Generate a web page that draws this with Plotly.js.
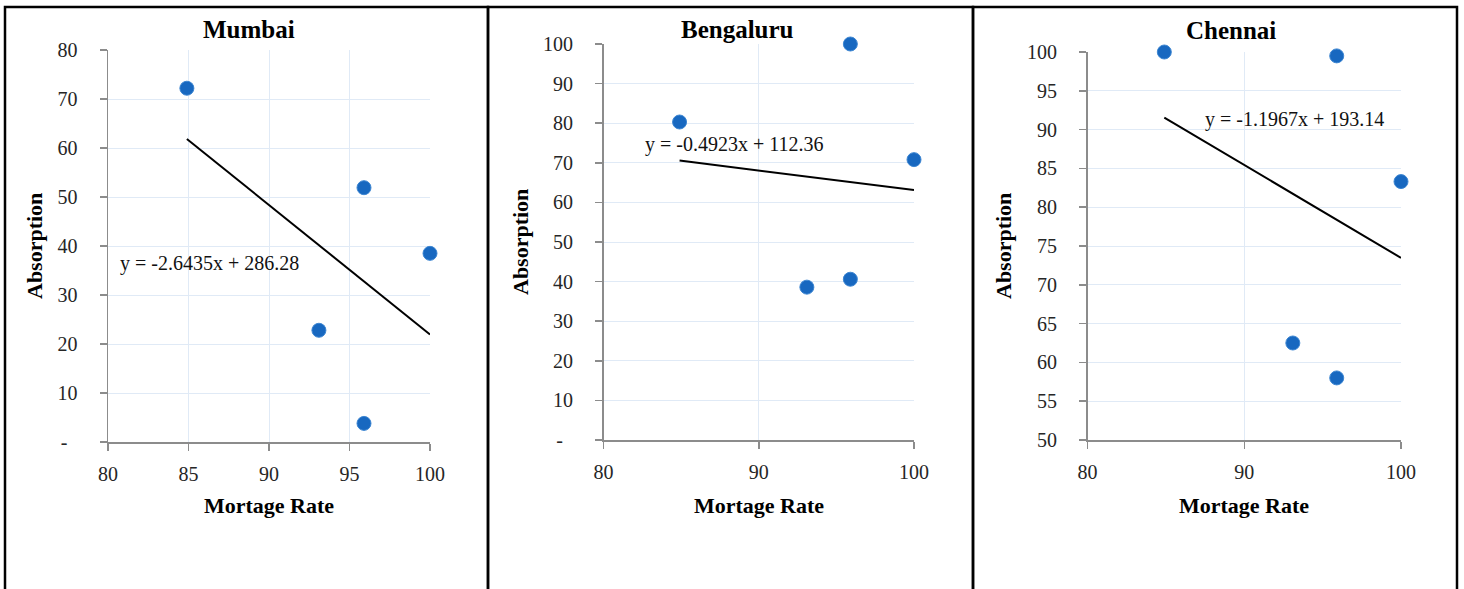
<!DOCTYPE html>
<html>
<head>
<meta charset="utf-8">
<script src="https://cdn.plot.ly/plotly-3.0.1.min.js"></script>
<style>
html,body{margin:0;padding:0;background:#fff;}
#chart{width:1464px;height:589px;}
</style>
</head>
<body>
<div id="chart"></div>
<script>
// ---- data ----
const cities = ["Mumbai", "Bengaluru", "Chennai"];
const mortgageRate = [84.9, 93.1, 95.9, 95.9, 100];
const absorptionMumbai = [72.2, 22.8, 51.9, 3.8, 38.5];
const absorptionBengaluru = [80.3, 38.6, 100, 40.6, 70.8];
const absorptionChennai = [100, 62.5, 99.5, 58.0, 83.3];
const trendSlopes = [-2.6435, -0.4923, -1.1967];
const trendIntercepts = [286.28, 112.36, 193.14];
const equationLabels = ["y = -2.6435x + 286.28", "y = -0.4923x + 112.36", "y = -1.1967x + 193.14"];
const xTickVals = [[80, 85, 90, 95, 100], [80, 90, 100], [80, 90, 100]];
const yTickVals = [
  [0, 10, 20, 30, 40, 50, 60, 70, 80],
  [0, 10, 20, 30, 40, 50, 60, 70, 80, 90, 100],
  [50, 55, 60, 65, 70, 75, 80, 85, 90, 95, 100]
];
const yTickText = [
  ["-\u00a0\u00a0", "10", "20", "30", "40", "50", "60", "70", "80"],
  ["-\u00a0\u00a0", "10", "20", "30", "40", "50", "60", "70", "80", "90", "100"],
  ["50", "55", "60", "65", "70", "75", "80", "85", "90", "95", "100"]
];
const yRanges = [[0, 80], [0, 100], [50, 100]];
const xTitle = "Mortage Rate";
const yTitle = "Absorption";

// ---- layout helpers ----
const W = 1464, H = 589;
const px = v => v / W;
const py = v => 1 - v / H;
const series = [absorptionMumbai, absorptionBengaluru, absorptionChennai];

const plotBoxes = [
  {l: 108, r: 430, t: 50, b: 442},
  {l: 603.5, r: 914, t: 44, b: 440},
  {l: 1087.5, r: 1401, t: 52, b: 440}
];
const panelBoxes = [[5, 488], [488, 973], [973, 1457]];
const titlePos = [[249, 29], [737, 29], [1231, 30]];
const yTitleX = [35, 520, 1004];
const eqPos = [[80.62, 36.5], [82.57, 74.5], [87.35, 91.24]];

const tickFont = {family: "Liberation Serif, serif", size: 20, color: "#262626"};
const data = [];
const layout = {
  width: W, height: H,
  margin: {l: 0, r: 0, t: 0, b: 0},
  paper_bgcolor: "#fff", plot_bgcolor: "#fff",
  showlegend: false,
  annotations: [], shapes: []
};

cities.forEach((city, i) => {
  const n = i === 0 ? "" : String(i + 1);
  const xa = "x" + n, ya = "y" + n;
  const box = plotBoxes[i];
  data.push({
    type: "scatter", mode: "markers",
    x: mortgageRate, y: series[i],
    xaxis: xa, yaxis: ya,
    marker: {size: 14, color: "#1868c0", line: {color: "#3d86d2", width: 1}},
    cliponaxis: false, name: city
  });
  const xmin = Math.min(...mortgageRate), xmax = Math.max(...mortgageRate);
  data.push({
    type: "scatter", mode: "lines",
    x: [xmin, xmax],
    y: [trendSlopes[i] * xmin + trendIntercepts[i], trendSlopes[i] * xmax + trendIntercepts[i]],
    xaxis: xa, yaxis: ya,
    line: {color: "#000", width: 2},
    cliponaxis: false, name: "Linear (" + city + ")"
  });
  layout["xaxis" + n] = {
    domain: [px(box.l), px(box.r)], anchor: ya,
    range: [80, 100], tickvals: xTickVals[i], ticktext: xTickVals[i].map(String),
    showgrid: true, gridcolor: "#e0eaf6", gridwidth: 1, zeroline: false,
    showline: true, linecolor: "#8c8c8c", linewidth: 1.5,
    ticks: "outside", ticklen: 7, tickwidth: 1.5, tickcolor: "#8c8c8c",
    tickfont: tickFont, ticklabelstandoff: 6, fixedrange: true
  };
  layout["yaxis" + n] = {
    domain: [py(box.b), py(box.t)], anchor: xa,
    range: yRanges[i], tickvals: yTickVals[i], ticktext: yTickText[i],
    showgrid: true, gridcolor: "#e0eaf6", gridwidth: 1, zeroline: false,
    showline: true, linecolor: "#8c8c8c", linewidth: 1.5,
    ticks: "outside", ticklen: 7, tickwidth: 1.5, tickcolor: "#8c8c8c",
    tickfont: tickFont, ticklabelstandoff: 18, fixedrange: true
  };
  // panel title
  layout.annotations.push({
    text: "<b>" + city + "</b>", xref: "paper", yref: "paper",
    x: px(titlePos[i][0]), y: py(titlePos[i][1]), xanchor: "center", yanchor: "middle",
    showarrow: false, font: {family: "Liberation Serif, serif", size: 25, color: "#000"}
  });
  // x axis title
  layout.annotations.push({
    text: "<b>" + xTitle + "</b>", xref: "paper", yref: "paper",
    x: px((box.l + box.r) / 2), y: py(505), xanchor: "center", yanchor: "middle",
    showarrow: false, font: {family: "Liberation Serif, serif", size: 22, color: "#000"}
  });
  // y axis title
  layout.annotations.push({
    text: "<b>" + yTitle + "</b>", xref: "paper", yref: "paper",
    x: px(yTitleX[i]), y: py((box.t + box.b) / 2), xanchor: "center", yanchor: "middle",
    textangle: -90,
    showarrow: false, font: {family: "Liberation Serif, serif", size: 22, color: "#000"}
  });
  // equation label
  layout.annotations.push({
    text: equationLabels[i], xref: xa, yref: ya,
    x: eqPos[i][0], y: eqPos[i][1], xanchor: "left", yanchor: "middle",
    showarrow: false, font: {family: "Liberation Serif, serif", size: 20, color: "#111"}
  });
  // panel frame
  layout.shapes.push({
    type: "rect", xref: "paper", yref: "paper",
    x0: px(panelBoxes[i][0]), x1: px(panelBoxes[i][1]), y0: -0.05, y1: py(7),
    line: {color: "#000", width: 2.5}, fillcolor: "rgba(0,0,0,0)", layer: "above"
  });
});

Plotly.newPlot("chart", data, layout, {displayModeBar: false, staticPlot: true});
</script>
</body>
</html>
